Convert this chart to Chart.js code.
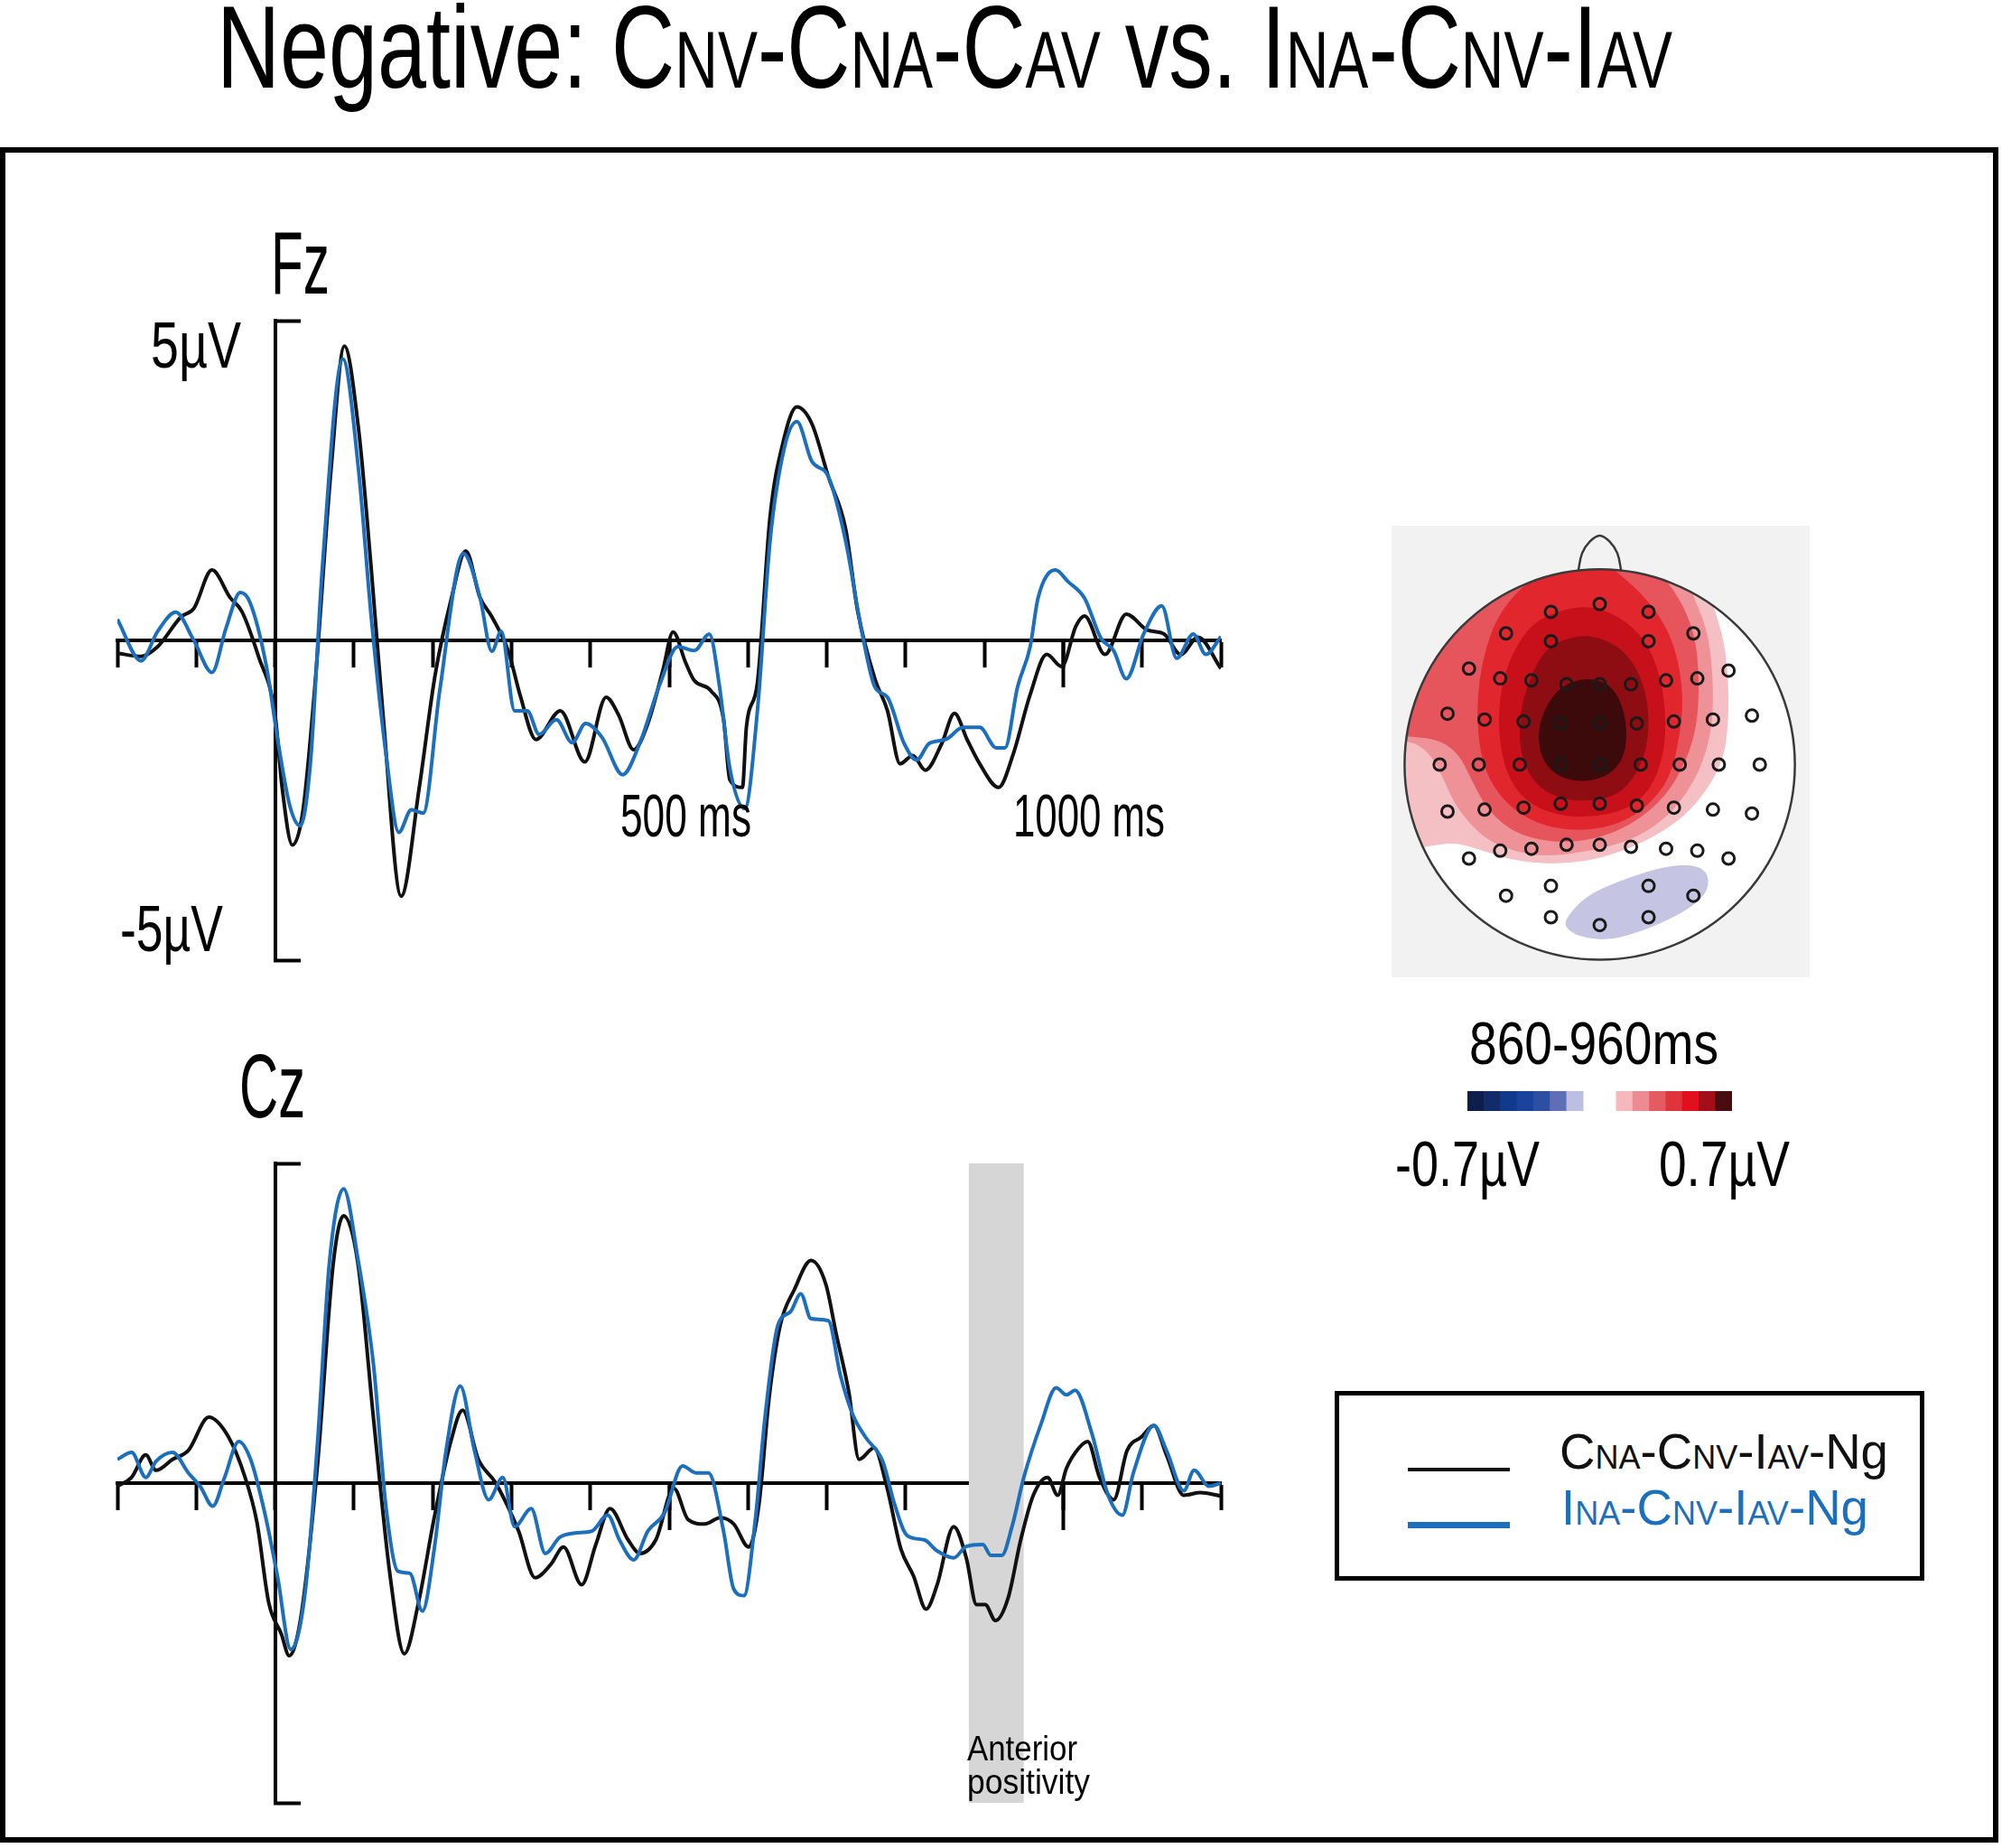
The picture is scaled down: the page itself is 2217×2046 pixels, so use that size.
<!DOCTYPE html>
<html>
<head>
<meta charset="utf-8">
<script src="https://cdn.jsdelivr.net/npm/chart.js@4.4.1/dist/chart.umd.min.js"></script>
<style>
  html, body { margin: 0; padding: 0; background: #fff; }
  #page { position: relative; width: 2217px; height: 2046px; overflow: hidden; background: #fff; }
  .box { position: absolute; }
  .frame { position: absolute; left: 0; top: 163px; width: 2213px; height: 1877px; border: 6px solid #000; box-sizing: border-box; }
  .t { position: absolute; font-family: 'Liberation Sans', Arial, sans-serif; white-space: nowrap; line-height: 1; transform-origin: 0 0; color: #000; }
  .s { font-size: 0.68em; }
  .lg .s { font-size: 0.66em; }
  .legend { position: absolute; left: 1478px; top: 1540px; width: 653px; height: 210px; border: 5px solid #000; box-sizing: border-box; }
  .lline { position: absolute; }
  .topobg { position: absolute; left: 1541px; top: 582px; width: 463px; height: 500px; background: #f2f2f2; }
</style>
</head>
<body>
<div id="page">
  <div class="frame"></div>
  <div class="topobg"></div>
  <div class="box" style="left:100px;top:325px;width:1282px;height:768px"><canvas id="fz" width="1282" height="768"></canvas></div>
  <div class="box" style="left:100px;top:1258px;width:1282px;height:768px"><canvas id="cz" width="1282" height="768"></canvas></div>
  <div class="box" style="left:1531px;top:573px;width:483px;height:519px"><canvas id="topo" width="483" height="519"></canvas></div>
  <div class="box" style="left:1625px;top:1208px;width:293px;height:22px"><canvas id="cbar" width="293" height="22"></canvas></div>
  <div class="legend"></div>
</div>
<script>
// time axis ticks (ms) and voltage bracket (µV)
const xTicks = [-200, -100, 0, 100, 200, 300, 400, 500, 600, 700, 800, 900, 1000, 1100, 1200];
const xLongTicks = [500, 1000];
const yBracket = [-5, 5];

// Fz, CNA-CNV-IAV-Ng (black)
const fzTimeBlack = [-200,-170,-149,-119,-103,-80,-57,-42,-21,0,9,22,35,50,71,88,106,122,137,160,183,203,224,242,260,275,296,311,331,362,393,420,436,455,473,492,505,521,532,553,569,577,593,598,612,628,644,662,681,702,724,739,761,777,793,809,825,846,862,878,894,918,936,958,979,998,1016,1027,1053,1080,1107,1128,1149,1171,1200];
const fzBlack = [-0.2,-0.25,-0.1,0.37,0.5,1.1,0.67,0.45,-0.25,-1.16,-2.3,-3.2,-2.7,-0.8,2.66,4.6,3.3,1.13,-1.16,-4.0,-2.3,-0.55,0.67,1.4,0.67,0.37,-0.17,-0.86,-1.55,-1.1,-1.9,-0.89,-1.17,-1.71,-1.3,-0.47,0.13,-0.35,-0.63,-0.79,-1.23,-2.18,-2.3,-1.36,-0.66,1.93,3.07,3.65,3.39,2.56,1.74,0.47,-0.6,-1.1,-1.93,-1.8,-2.03,-1.61,-1.14,-1.55,-1.93,-2.3,-1.8,-0.85,-0.22,-0.41,0.22,0.38,-0.22,0.41,0.16,0.1,-0.22,0.05,-0.44];

// Fz, INA-CNV-IAV-Ng (blue)
const fzTimeBlue = [-200,-170,-149,-126,-103,-80,-62,-44,-32,-11,4,19,32,45,60,86,106,122,142,157,173,188,209,239,260,275,287,304,320,335,357,377,394,415,441,463,489,511,532,551,564,577,596,612,628,646,662,681,702,724,745,761,777,798,814,830,851,873,894,915,926,942,958,968,990,1006,1027,1048,1064,1080,1102,1125,1144,1165,1181,1200];
const fzBlue = [0.33,-0.32,0.14,0.44,0,-0.5,0.2,0.75,0.6,-0.4,-1.6,-2.6,-2.9,-1.9,1.13,4.4,2.66,0.37,-1.9,-3.0,-2.65,-2.7,-0.78,1.36,0.67,-0.17,0.14,-1.1,-1.1,-1.47,-1.24,-1.6,-1.3,-1.52,-2.1,-1.6,-0.66,-0.1,-0.16,0.1,-0.73,-2.0,-2.63,-1.1,1.55,3.0,3.42,2.8,2.56,1.55,0.1,-0.73,-0.89,-1.61,-1.87,-1.61,-1.55,-1.36,-1.36,-1.68,-1.68,-0.73,-0.1,0.66,1.1,0.92,0.66,0.03,-0.16,-0.6,0.1,0.54,-0.28,0.1,-0.22,0.06];

// Cz, black
const czTimeBlack = [-200,-182,-164,-151,-130,-110,-84,-59,-38,-23,-8,8,18,33,54,74,87,105,125,146,164,182,202,223,238,258,279,294,309,330,350,366,389,407,425,448,463,483,506,524,545,565,582,601,614,627,641,659,680,699,712,728,741,760,776,794,810,826,840,861,877,890,901,914,930,946,962,980,993,1004,1020,1031,1046,1064,1081,1099,1115,1131,1153,1174,1200];
const czBlack = [-0.05,0.09,0.44,0.2,0.37,0.51,1.03,0.72,0.09,-0.61,-1.87,-2.36,-2.7,-2.08,0.3,3.45,4.18,3.45,1.0,-1.45,-2.67,-1.87,-0.54,0.65,1.14,0.37,0.02,-0.33,-0.75,-1.48,-1.27,-1.0,-1.59,-0.96,-0.4,-0.89,-1.1,-0.89,-0.08,-0.57,-0.64,-0.54,-0.64,-1.0,-0.33,1.35,2.47,3.03,3.48,3.1,2.33,1.42,0.37,0.55,-0.05,-1.03,-1.45,-1.97,-1.59,-0.68,-1.17,-1.9,-1.9,-2.15,-1.8,-0.89,-0.19,0.09,-0.19,0.23,0.55,0.65,0.09,-0.26,0.51,0.72,0.9,0.44,-0.19,-0.15,-0.2];

// Cz, blue
const czTimeBlue = [-200,-182,-164,-151,-130,-110,-95,-79,-64,-46,-31,-13,3,20,38,54,69,87,105,125,141,156,171,187,202,217,235,253,271,289,304,325,343,361,381,402,422,437,455,473,494,517,534,550,569,582,595,609,622,638,654,667,680,702,717,733,749,771,786,802,824,840,861,877,898,908,922,935,950,972,991,1004,1015,1036,1057,1075,1089,1115,1131,1153,1166,1185,1200];
const czBlue = [0.37,0.48,0.09,0.34,0.48,0.16,-0.05,-0.36,0.09,0.65,0.37,-0.47,-1.45,-2.6,-1.73,0.65,3.45,4.6,3.52,1.84,-0.4,-1.38,-1.41,-2.0,-1.03,0.51,1.52,0.51,-0.26,0.09,-0.68,-0.4,-1.1,-0.85,-0.78,-0.75,-0.5,-0.89,-1.2,-0.75,-0.47,0.27,0.16,0.16,-0.75,-1.66,-1.76,-0.61,1.07,2.47,2.68,2.96,2.57,2.54,1.7,1.07,0.72,0.34,-0.33,-0.82,-0.89,-1.06,-1.17,-0.99,-0.96,-1.13,-1.13,-0.68,0.09,0.93,1.49,1.38,1.45,0.79,-0.19,-0.5,0.16,0.9,0.51,-0.12,0.2,-0.05,0.0];

// shaded window on Cz (ms)
const bandWindow = [880, 950];

// topography: electrode positions (head radius = 100)
const electrodeX = [0,-25,25,-48,-25,25,48,-67,-51,-35,-17,0,16,34,50,66,-78,-59,-39,-20,0,19,38,58,78,-82,-62,-41,-20,0,21,41,61,82,-78,-59,-39,-20,0,19,38,58,78,-67,-51,-35,-17,0,16,34,50,66,-48,-25,25,48,-25,0,25];
const electrodeY = [82,78,78,67,63,63,67,49,44,43,41,41,41,43,44,48,26,23,22,21,21,21,22,23,25,0,0,0,0,0,0,0,0,0,-24,-23,-22,-20,-20,-21,-22,-23,-25,-48,-44,-43,-41,-41,-42,-43,-44,-48,-67,-62,-62,-67,-78,-82,-78];
const headRadius = 100;
const noseOutline = [[-11,99],[-9,108],[-5,114],[0,117],[5,114],[9,108],[11,99]];

// iso-voltage regions, 860-960 ms (outermost first)
const contour1 = [[-114,131],[53,131],[56,87],[63,67],[66,45],[66,23],[64,5],[57,-10],[46,-24],[33,-34],[15,-43],[-4,-49],[-25,-51],[-44,-49],[-60,-44],[-73,-40],[-85,-41],[-98,-44],[-114,-45]];
const contour2 = [[-114,131],[37,131],[46,90],[55,70],[58,47],[58,21],[53,1],[44,-16],[31,-30],[15,-39],[-4,-44],[-25,-47],[-42,-45],[-57,-39],[-67,-30],[-75,-19],[-81,-5],[-88,7],[-97,12],[-114,13]];
const contour3 = [[-114,131],[22,131],[30,99],[41,85],[49,66],[51,44],[50,20],[44,1],[34,-16],[19,-29],[2,-37],[-17,-40],[-35,-38],[-48,-32],[-59,-21],[-66,-7],[-72,5],[-81,12],[-92,14],[-114,15]];
const contour4 = [[-22,104],[-41,90],[-53,75],[-60,54],[-63,32],[-62,10],[-57,-8],[-45,-23],[-28,-32],[-7,-34],[11,-30],[25,-21],[36,-7],[41,14],[43,36],[39,59],[31,76],[18,91],[-1,106]];
const contour5 = [[-19,79],[-34,73],[-45,57],[-51,38],[-52,16],[-48,-5],[-38,-19],[-22,-26],[-4,-27],[14,-23],[26,-13],[33,5],[34,27],[30,50],[21,67],[6,78],[-7,81]];
const contour6 = [[-16,65],[-28,59],[-36,44],[-41,26],[-41,7],[-35,-8],[-23,-17],[-7,-19],[9,-16],[19,-5],[25,11],[25,32],[19,50],[9,61],[-4,66]];
const contour7 = [[-13,43],[-22,38],[-29,27],[-32,14],[-29,1],[-20,-7],[-7,-9],[6,-5],[13,5],[14,19],[11,32],[5,41],[-4,44]];
const contourNeg = [[-17,-78],[-7,-67],[11,-59],[33,-52],[49,-51],[56,-56],[55,-66],[44,-75],[25,-84],[5,-90],[-11,-88],[-18,-83]];

// colour scale steps (µV); blank slots are the gap round zero
const cbarLabels = ['-0.7','-0.6','-0.5','-0.4','-0.3','-0.2','-0.1','','','0.1','0.2','0.3','0.4','0.5','0.6','0.7'];
const cbarSteps = [1,1,1,1,1,1,1,null,null,1,1,1,1,1,1,1];

const BLACK = '#111111';
const BLUE = '#1b6fbd';
const cbarColors = ['#0e1e4a','#112b6b','#123a8c','#1a449c','#2d4fa1','#5f6fb5','#bcbfe1','#fff','#fff','#f4b8bd','#ec8b91','#e55b62','#df343c','#e1101c','#a30f19','#4b0c10'];
const regionColors = ['#f5c0c3','#ee9297','#e5555b','#e2262d','#c8101a','#8e0d13','#3c0a0b'];
const negColor = '#c5c4e2';

const pts = (xs, ys) => xs.map((x, i) => ({x: x, y: ys[i]}));
const pairs = arr => arr.map(p => ({x: p[0], y: p[1]}));

function erpChart(id, tb, vb, tl, vl, band) {
  const datasets = [
    {data: pts(tb, vb), borderColor: BLACK, borderWidth: 4, order: 2},
    {data: pts(tl, vl), borderColor: BLUE, borderWidth: 4, order: 1}
  ];
  if (band) {
    datasets.push({data: band.map(t => ({x: t, y: 5})), borderWidth: 0, backgroundColor: '#d6d6d6',
      fill: {value: -5}, order: 10});
  }
  return new Chart(document.getElementById(id), {
    type: 'line',
    data: {datasets: datasets},
    options: {
      responsive: false, animation: false, devicePixelRatio: 1,
      layout: {padding: 30},
      plugins: {legend: {display: false}, tooltip: {enabled: false}},
      elements: {point: {radius: 0}, line: {cubicInterpolationMode: 'monotone', borderJoinStyle: 'round'}},
      scales: {
        x: {type: 'linear', min: -200, max: 1200, position: {y: 0}, z: 1,
          afterBuildTicks: s => { s.ticks = xTicks.map(v => ({value: v})); },
          ticks: {display: false},
          grid: {drawOnChartArea: false, drawTicks: true, tickLength: 28, tickWidth: 4, tickColor: '#000'},
          border: {display: true, color: '#000', width: 4}},
        x2: {type: 'linear', min: -200, max: 1200, position: {y: 0}, z: 1,
          afterBuildTicks: s => { s.ticks = xLongTicks.map(v => ({value: v})); },
          ticks: {display: false},
          grid: {drawOnChartArea: false, drawTicks: true, tickLength: 52, tickWidth: 4, tickColor: '#000'},
          border: {display: false}},
        y: {type: 'linear', min: -5, max: 5, position: {x: 0},
          afterBuildTicks: s => { s.ticks = yBracket.map(v => ({value: v})); },
          ticks: {display: false},
          grid: {drawOnChartArea: false, drawTicks: true, tickLength: -30, tickWidth: 4, tickColor: '#000'},
          border: {display: true, color: '#000', width: 4}}
      }
    }
  });
}

erpChart('fz', fzTimeBlack, fzBlack, fzTimeBlue, fzBlue, null);
erpChart('cz', czTimeBlack, czBlack, czTimeBlue, czBlue, bandWindow);

// filled, smoothed iso-voltage regions clipped to the head
const topoPlugin = {
  id: 'topo',
  beforeDatasetsDraw(chart) {
    const {ctx, scales: {x, y}} = chart;
    const cx = x.getPixelForValue(0), cy = y.getPixelForValue(0);
    const r = x.getPixelForValue(headRadius) - cx;
    ctx.save();
    ctx.beginPath();
    ctx.arc(cx, cy, r, 0, Math.PI * 2);
    ctx.fillStyle = '#fff';
    ctx.fill();
    ctx.clip();
    chart.data.datasets.forEach((ds, i) => {
      if (!ds.region) return;
      const p = chart.getDatasetMeta(i).data;
      const n = p.length;
      const mid = (a, b) => [(a.x + b.x) / 2, (a.y + b.y) / 2];
      ctx.beginPath();
      const m0 = mid(p[n - 1], p[0]);
      ctx.moveTo(m0[0], m0[1]);
      for (let k = 0; k < n; k++) {
        const m = mid(p[k], p[(k + 1) % n]);
        ctx.quadraticCurveTo(p[k].x, p[k].y, m[0], m[1]);
      }
      ctx.closePath();
      ctx.fillStyle = ds.region;
      ctx.fill();
    });
    ctx.restore();
  },
  afterDatasetsDraw(chart) {
    const {ctx, scales: {x, y}} = chart;
    const cx = x.getPixelForValue(0), cy = y.getPixelForValue(0);
    const r = x.getPixelForValue(headRadius) - cx;
    ctx.save();
    ctx.beginPath();
    ctx.arc(cx, cy, r, 0, Math.PI * 2);
    ctx.strokeStyle = '#3a3a3a';
    ctx.lineWidth = 2.5;
    ctx.stroke();
    ctx.restore();
  }
};

const contours = [contour1, contour2, contour3, contour4, contour5, contour6, contour7];
const topoSets = contours.map((c, i) => ({data: pairs(c), region: regionColors[i], pointRadius: 0, showLine: false}));
topoSets.push({data: pairs(contourNeg), region: negColor, pointRadius: 0, showLine: false});
topoSets.push({data: pairs(noseOutline), showLine: true, borderColor: '#3a3a3a', borderWidth: 2.5, pointRadius: 0, tension: 0.4});
topoSets.push({data: pts(electrodeX, electrodeY), pointRadius: 6.5, pointBorderWidth: 3,
  pointBorderColor: '#1a1a1a', pointBackgroundColor: 'rgba(0,0,0,0)', showLine: false});

new Chart(document.getElementById('topo'), {
  type: 'scatter',
  data: {datasets: topoSets},
  options: {
    responsive: false, animation: false, devicePixelRatio: 1,
    layout: {padding: 0},
    plugins: {legend: {display: false}, tooltip: {enabled: false}},
    scales: {
      x: {type: 'linear', min: -106.9, max: 107.8, display: false},
      y: {type: 'linear', min: -108.9, max: 121.8, display: false}
    }
  },
  plugins: [topoPlugin]
});

new Chart(document.getElementById('cbar'), {
  type: 'bar',
  data: {labels: cbarLabels, datasets: [{data: cbarSteps, backgroundColor: cbarColors, borderWidth: 0,
    barPercentage: 1, categoryPercentage: 1}]},
  options: {
    responsive: false, animation: false, devicePixelRatio: 1,
    layout: {padding: 0},
    plugins: {legend: {display: false}, tooltip: {enabled: false}},
    scales: {x: {display: false}, y: {display: false, min: 0, max: 1}}
  }
});

// text: left edge, baseline, font size, target width
const sc = s => '<span class="s">' + s + '</span>';
const texts = [
  {html: 'Negative: C' + sc('NV') + '-C' + sc('NA') + '-C' + sc('AV') + ' vs. I' + sc('NA') + '-C' + sc('NV') + '-I' + sc('AV'), left: 240, base: 97, size: 130, width: 1612},
  {html: 'Fz', left: 300, base: 325, size: 98, width: 65},
  {html: '5µV', left: 167, base: 407, size: 72, width: 100},
  {html: '-5µV', left: 133, base: 1053, size: 72, width: 114},
  {html: '500 ms', left: 687, base: 926, size: 66, width: 145},
  {html: '1000 ms', left: 1122, base: 926, size: 66, width: 168},
  {html: 'Cz', left: 265, base: 1237, size: 100, width: 73},
  {html: 'Anterior', left: 1071, base: 1949, size: 39, width: 122},
  {html: 'positivity', left: 1071, base: 1986, size: 39, width: 136},
  {html: '860-960ms', left: 1627, base: 1178, size: 67, width: 276},
  {html: '-0.7µV', left: 1545, base: 1313, size: 70, width: 160},
  {html: '0.7µV', left: 1837, base: 1313, size: 70, width: 145},
  {html: 'C' + sc('NA') + '-C' + sc('NV') + '-I' + sc('AV') + '-Ng', left: 1727, base: 1627, size: 55, width: 364, color: BLACK, cls: 'lg'},
  {html: 'I' + sc('NA') + '-C' + sc('NV') + '-I' + sc('AV') + '-Ng', left: 1729, base: 1688, size: 56, width: 340, color: BLUE, cls: 'lg'}
];
const page = document.getElementById('page');
texts.forEach(t => {
  const d = document.createElement('div');
  d.className = 't' + (t.cls ? ' ' + t.cls : '');
  d.innerHTML = t.html;
  d.style.fontSize = t.size + 'px';
  d.style.left = t.left + 'px';
  d.style.top = (t.base - 0.8465 * t.size) + 'px';
  if (t.color) d.style.color = t.color;
  page.appendChild(d);
  const w = d.getBoundingClientRect().width;
  d.style.transform = 'scaleX(' + (t.width / w).toFixed(4) + ')';
});

// legend swatches
[{y: 1627, w: 4.5, c: BLACK}, {y: 1688, w: 7, c: BLUE}].forEach(s => {
  const l = document.createElement('div');
  l.className = 'lline';
  l.style.left = '1559px';
  l.style.width = '113px';
  l.style.top = (s.y - s.w / 2) + 'px';
  l.style.height = s.w + 'px';
  l.style.background = s.c;
  page.appendChild(l);
});
</script>
</body>
</html>
